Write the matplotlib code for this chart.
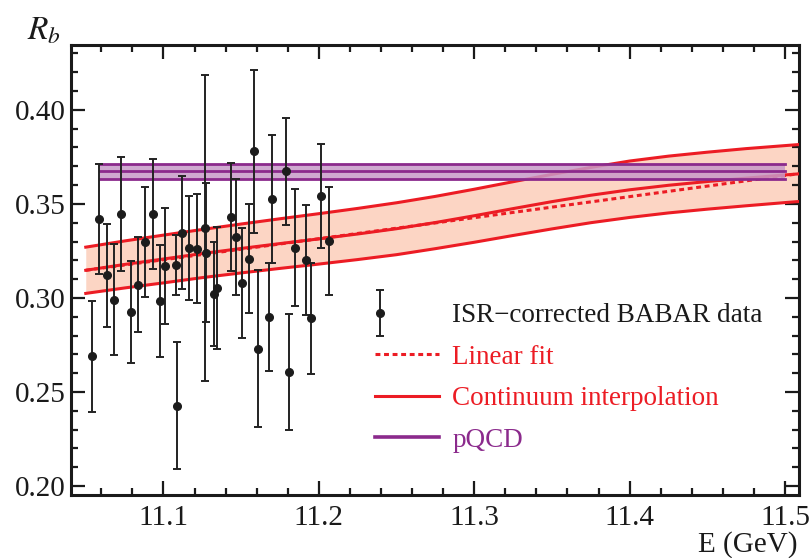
import numpy as np
import matplotlib
matplotlib.use("Agg")
import matplotlib.pyplot as plt
from matplotlib.lines import Line2D
from matplotlib.legend_handler import HandlerErrorbar
from matplotlib.ticker import MultipleLocator, FormatStrFormatter

# ---------------- data ----------------
E = [11.0537, 11.0586, 11.0636, 11.0682, 11.0726, 11.0792, 11.0833, 11.0882,
     11.0931, 11.0978, 11.1008, 11.1079, 11.1087, 11.1118, 11.1165, 11.1217,
     11.1267, 11.1274, 11.1323, 11.1347, 11.1433, 11.1465, 11.1503, 11.1553,
     11.1580, 11.1609, 11.1679, 11.1701, 11.1788, 11.1807, 11.1847, 11.1915,
     11.1947, 11.2016, 11.2064]
Rb = [0.2690, 0.3421, 0.3120, 0.2991, 0.3446, 0.2925, 0.3071, 0.3298,
      0.3446, 0.2982, 0.3170, 0.3177, 0.2426, 0.3347, 0.3267, 0.3261,
      0.3371, 0.3241, 0.3023, 0.3053, 0.3430, 0.3324, 0.3079, 0.3209,
      0.3780, 0.2729, 0.2899, 0.3527, 0.3674, 0.2607, 0.3267, 0.3200,
      0.2892, 0.3541, 0.3302]
Rb_err = [0.0294, 0.0292, 0.0275, 0.0295, 0.0305, 0.0272, 0.0253, 0.0294,
          0.0293, 0.0297, 0.0310, 0.0160, 0.0338, 0.0302, 0.0277, 0.0290,
          0.0813, 0.0368, 0.0277, 0.0325, 0.0286, 0.0310, 0.0292, 0.0290,
          0.0434, 0.0417, 0.0286, 0.0340, 0.0285, 0.0310, 0.0310, 0.0292,
          0.0294, 0.0275, 0.0287]

# continuum interpolation band
cont_E = [11.050, 11.075, 11.100, 11.125, 11.150, 11.175, 11.200, 11.225,
          11.250, 11.275, 11.300, 11.325, 11.350, 11.375, 11.400, 11.425,
          11.450, 11.475, 11.500, 11.525]
cont_mid = [0.3147, 0.3178, 0.3207, 0.3236, 0.3263, 0.3289, 0.3314, 0.3340,
            0.3368, 0.3401, 0.3437, 0.3475, 0.3512, 0.3546, 0.3575, 0.3599,
            0.3619, 0.3637, 0.3654, 0.3670]
cont_hi = [0.3270, 0.3303, 0.3334, 0.3364, 0.3393, 0.3421, 0.3448, 0.3476,
           0.3506, 0.3540, 0.3578, 0.3618, 0.3657, 0.3694, 0.3728, 0.3754,
           0.3775, 0.3794, 0.3810, 0.3826]
cont_lo = [0.3024, 0.3053, 0.3080, 0.3108, 0.3133, 0.3157, 0.3180, 0.3204,
           0.3230, 0.3262, 0.3296, 0.3332, 0.3367, 0.3400, 0.3428, 0.3452,
           0.3472, 0.3490, 0.3507, 0.3523]

# linear fit
lin_E = [11.05, 11.52]
lin_R = [0.3147, 0.3673]

# pQCD band
pqcd_E = [11.059, 11.50]
pqcd_mid = [0.3675, 0.3675]
pqcd_hi = [0.3712, 0.3712]
pqcd_lo = [0.3630, 0.3630]

# ---------------- style ----------------
plt.rcParams['font.family'] = ['Liberation Serif', 'DejaVu Serif']
plt.rcParams['mathtext.fontset'] = 'stix'

RED = '#ec1c24'
RED_FILL = '#fcd5c4'
PURPLE = '#8b2a8c'
PURPLE_FILL = '#c79ac8'
DOT = '#1c1c1c'
INK = '#1a1a1a'

fig = plt.figure(figsize=(8.10, 5.58), dpi=100)
ax = fig.add_axes([71/810, 1-495/558, 728/810, 450/558])

# continuum band
ax.fill_between(cont_E, cont_lo, cont_hi, color=RED_FILL, lw=0, zorder=1)
ax.plot(lin_E, lin_R, color=RED, lw=2.2, ls=(0, (1.6, 1.2)), zorder=2)
for arr in (cont_hi, cont_lo, cont_mid):
    ax.plot(cont_E, arr, color=RED, lw=2.2, zorder=3, solid_joinstyle='round')

# pQCD band
ax.fill_between(pqcd_E, pqcd_lo, pqcd_hi, color=PURPLE_FILL, alpha=0.85, lw=0, zorder=4)
for arr in (pqcd_hi, pqcd_mid, pqcd_lo):
    ax.plot(pqcd_E, arr, color=PURPLE, lw=2.0, zorder=5)

# data
eb = ax.errorbar(E, Rb, yerr=Rb_err, fmt='o', color=DOT, ms=5.5,
                 ecolor='#222222', elinewidth=1.4, capsize=3.2, capthick=1.4,
                 zorder=6)

ax.set_xlim(11.0405, 11.509)
ax.set_ylim(0.1952, 0.4345)

ax.xaxis.set_major_locator(MultipleLocator(0.1))
ax.xaxis.set_minor_locator(MultipleLocator(0.02))
ax.yaxis.set_major_locator(MultipleLocator(0.05))
ax.yaxis.set_minor_locator(MultipleLocator(0.01))
ax.xaxis.set_major_formatter(FormatStrFormatter('%.1f'))
ax.yaxis.set_major_formatter(FormatStrFormatter('%.2f'))

ax.tick_params(which='both', direction='in', top=True, right=True,
               labelsize=21, width=1.6, color=INK, labelcolor=INK)
ax.tick_params(which='major', length=10, pad=4)
ax.tick_params(axis='x', which='major', pad=7)
ax.tick_params(which='minor', length=5)
for s in ax.spines.values():
    s.set_linewidth(2.2)
    s.set_color(INK)

fig.text(27/810, 1-47/558, r'$R_b$', fontsize=24, ha='left', va='bottom', color=INK)
fig.text(798/810, 1-545/558, 'E (GeV)', fontsize=21, ha='right', va='center',
         color=INK)


class LeftErrorbar(HandlerErrorbar):
    def get_xdata(self, legend, xdescent, ydescent, width, height, fontsize):
        xdata = [-xdescent, -xdescent + width]
        xdata_marker = [-xdescent + 0.08 * width]
        return xdata, xdata_marker


h_lin = Line2D([], [], color=RED, lw=2.2, ls=(0, (1.6, 1.2)))
h_cont = Line2D([], [], color=RED, lw=2.2)
h_pq = Line2D([], [], color=PURPLE, lw=2.6)
leg = ax.legend([eb, h_lin, h_cont, h_pq],
                ['ISR\u2212corrected BABAR data', 'Linear fit',
                 'Continuum interpolation', 'pQCD'],
                loc='upper left', bbox_to_anchor=((375-71)/728, (495-303)/450),
                frameon=False, fontsize=19.5, handlelength=2.35, handletextpad=0.5,
                labelspacing=0.61, borderpad=0, borderaxespad=0,
                handler_map={type(eb): LeftErrorbar(xerr_size=0.3, yerr_size=0.85)},
                labelcolor=[INK, RED, RED, PURPLE])

fig.savefig('out.png', dpi=100)
